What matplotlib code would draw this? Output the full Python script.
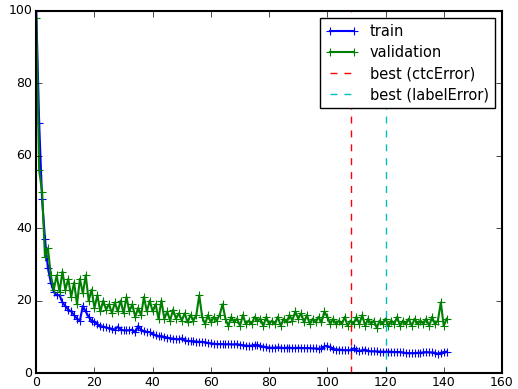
import matplotlib
matplotlib.use("Agg")
import matplotlib.pyplot as plt
import numpy as np

# error curves (percent) per epoch
train = [100, 69, 48, 37, 29, 25, 22.5, 21.5, 21.5, 19.5,
         18.5, 17.5, 17, 16, 15, 14.5, 18.5, 17, 15.5, 14.5,
         14.2, 13.5, 13, 12.8, 12.6, 12.4, 12.2, 12, 12.8, 12,
         11.8, 11.8, 11.8, 12, 11.2, 13, 12, 11.5, 11.4, 11.3,
         10.9, 10.4, 10.1, 10.2, 10, 9.8, 9.6, 9.5, 9.4, 9.3,
         9.6, 9.0, 8.9, 8.8, 8.8, 8.7, 8.6, 8.6, 8.5, 8.3,
         8.2, 8.1, 8.0, 8.0, 8.0, 7.9, 8.0, 7.9, 7.9, 8.0,
         7.8, 7.7, 7.6, 7.5, 7.6, 7.8, 7.8, 7.5, 7.3, 7.2,
         7.0, 7.0, 7.0, 7.1, 7.0, 6.9, 7.0, 7.0, 6.9, 6.9,
         7.0, 6.9, 6.9, 6.9, 6.9, 6.8, 6.8, 6.7, 6.8, 7.4,
         7.5, 7.1, 6.7, 6.5, 6.5, 6.4, 6.3, 6.3, 6.3, 6.8,
         6.3, 6.1, 6.3, 6.5, 6.1, 6.0, 6.0, 6.0, 5.9, 5.9,
         5.9, 5.9, 5.9, 5.8, 5.8, 5.8, 5.7, 5.5, 5.5, 5.5,
         5.5, 5.6, 5.6, 5.7, 5.8, 5.7, 5.7, 5.6, 5.3, 5.6,
         5.8, 5.9]
validation = [98, 56, 50, 32, 34.5, 27, 23, 27, 22.5, 28,
              23, 26, 21, 25, 19, 26, 22, 27, 20, 23,
              18, 21.5, 17, 20, 17.5, 19, 16.5, 19.5, 17, 20,
              16.5, 21, 17, 19, 15.5, 18, 16, 21, 17, 20,
              17, 19, 15, 20, 15, 17, 14.5, 17.5, 15, 16.5,
              14.5, 16.5, 14, 16, 14.5, 16, 21.5, 15.5, 13.5, 16,
              14, 15.5, 14.5, 16, 19, 15, 13, 15.5, 14, 15,
              13, 16, 13.5, 14.5, 13.5, 15.5, 14.5, 15, 13, 15.5,
              13.5, 14.5, 13.5, 15.5, 13, 15, 14, 16, 14.5, 17,
              15, 16.5, 14, 16, 13.5, 15, 14, 15.5, 14, 17,
              15.5, 13.5, 15, 13.5, 14.5, 13.5, 15.5, 13, 14.5, 13.5,
              15.5, 13.5, 16, 13, 15, 13.5, 14.5, 12.5, 14.5, 13.5,
              15, 13, 14.5, 13.5, 15.5, 13, 14.5, 13.5, 15, 13,
              15, 13.5, 14.5, 13.5, 15, 13, 15.5, 13.5, 14.5, 19.5,
              13, 15]
epochs = np.arange(len(train))
best_ctc = 108
best_label = 120

plt.style.use("classic")
plt.rcParams["font.size"] = 9
plt.rcParams["axes.linewidth"] = 1.5
plt.rcParams["xtick.major.pad"] = 2
plt.rcParams["ytick.major.pad"] = 3
plt.rcParams["savefig.facecolor"] = "white"

fig = plt.figure(figsize=(5.18, 3.89), dpi=100, facecolor="white")
ax = fig.add_axes([0.07, 0.041, 0.899, 0.931])

ax.plot(epochs, train, "b+-", lw=1.5, mew=0.8, ms=6, label="train")
ax.plot(epochs, validation, "g+-", lw=1.5, mew=0.8, ms=6, label="validation")
ax.axvline(best_ctc, color="r", ls="--", dashes=(5, 5), label="best (ctcError)")
ax.axvline(best_label, color="c", ls="--", dashes=(5, 5), label="best (labelError)")

ax.set_xlim(0, 160)
ax.set_ylim(0, 100)
ax.set_xticks(range(0, 161, 20))
ax.set_yticks(range(0, 101, 20))
ax.legend(loc="upper right", fontsize=10.5, handlelength=2.2, labelspacing=0.42)

fig.savefig("out.png", dpi=100, facecolor="white")
